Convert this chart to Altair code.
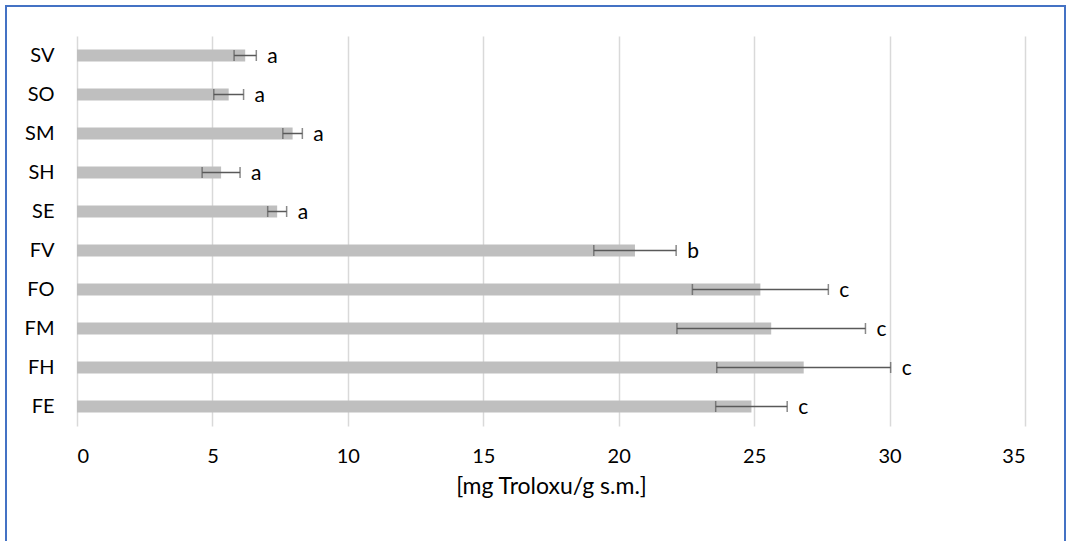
import altair as alt
import pandas as pd

categories = ["SV", "SO", "SM", "SH", "SE", "FV", "FO", "FM", "FH", "FE"]
means = [6.21, 5.60, 7.96, 5.32, 7.39, 20.60, 25.23, 25.63, 26.83, 24.90]
errors = [0.41, 0.55, 0.36, 0.70, 0.35, 1.52, 2.51, 3.48, 3.21, 1.32]
letters = ["a", "a", "a", "a", "a", "b", "c", "c", "c", "c"]
x_ticks = [0, 5, 10, 15, 20, 25, 30, 35]

df = pd.DataFrame({"cat": categories, "mean": means, "err": errors, "letter": letters})
df["lo"] = df["mean"] - df["err"]
df["hi"] = df["mean"] + df["err"]

FONT = "Lato"
ERR_COLOR = "#595959"

xscale = alt.Scale(domain=[0, 35], nice=False, zero=True)
yenc = alt.Y(
    "cat:N",
    sort=categories,
    title=None,
    axis=alt.Axis(
        domain=False, ticks=False, grid=False, labelFontSize=20, labelFont=FONT,
        labelFontWeight="normal", labelColor="#000000", labelPadding=23,
    ),
)

base = alt.Chart(df).encode(y=yenc)

bars = base.mark_bar(color="#BFBFBF", size=12).encode(
    x=alt.X(
        "mean:Q",
        scale=xscale,
        axis=alt.Axis(
            values=x_ticks, grid=True, gridColor="#D9D9D9", gridWidth=1.5,
            domain=False, ticks=False, labelFontSize=20, labelFont=FONT,
            labelFontWeight="normal", labelColor="#000000", labelPadding=20,
            title="[mg Troloxu/g s.m.]", titleFontSize=23, titleFont=FONT,
            titleFontWeight="normal", titleColor="#000000", titlePadding=9,
        ),
    )
)

rule = base.mark_rule(color=ERR_COLOR, strokeWidth=1.5).encode(
    x=alt.X("lo:Q", scale=xscale), x2="hi:Q"
)
tick_lo = base.mark_tick(color=ERR_COLOR, thickness=1.5, size=11).encode(
    x=alt.X("lo:Q", scale=xscale)
)
tick_hi = base.mark_tick(color=ERR_COLOR, thickness=1.5, size=11).encode(
    x=alt.X("hi:Q", scale=xscale)
)
labels = base.mark_text(
    align="left", baseline="middle", dx=11, dy=1, fontSize=21, font=FONT, color="#000000"
).encode(x=alt.X("hi:Q", scale=xscale), text="letter:N")

border = alt.Chart(df).mark_rect(
    fill=None, stroke="#4472C4", strokeWidth=2
).encode(
    x=alt.value(-71), x2=alt.value(988), y=alt.value(-30), y2=alt.value(520)
)

chart = alt.layer(bars, rule, tick_lo, tick_hi, labels, border).properties(
    width=948,
    height=390,
    padding={"left": 77, "top": 36, "right": 46, "bottom": 115},
    autosize=alt.AutoSizeParams(type="none"),
    background="#FFFFFF",
).configure_view(stroke=None)

chart.save("out.html", embed_options={"renderer": "svg", "actions": False})
